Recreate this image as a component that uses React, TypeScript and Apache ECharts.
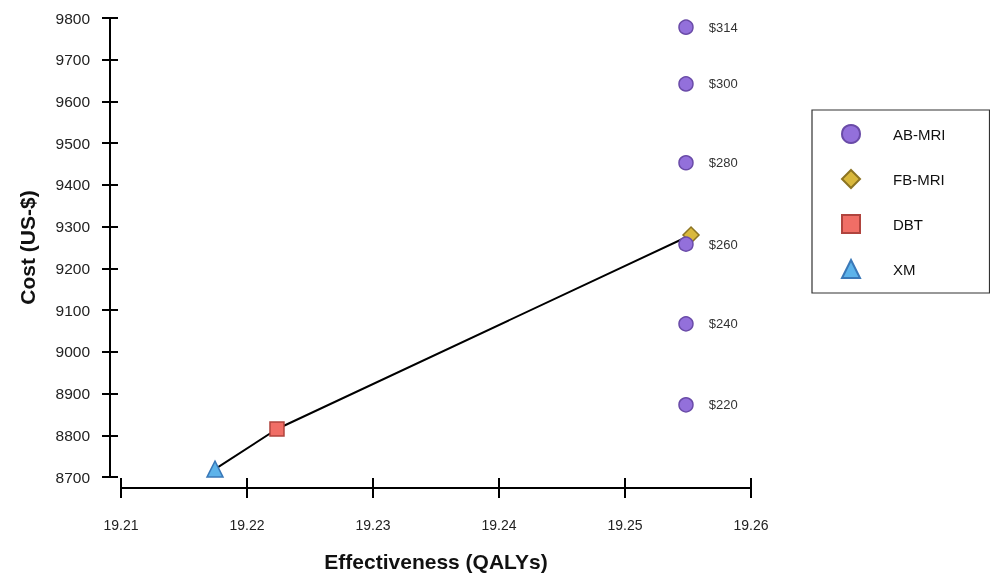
import React, { useEffect, useRef } from "react";
import * as echarts from "echarts";

const abMriX = [19.25484, 19.25484, 19.25484, 19.25484, 19.25484, 19.25484];
const abMriCost = [9778, 9642, 9453, 9258, 9067, 8873];
const abMriLabels = ["$314", "$300", "$280", "$260", "$240", "$220"];
const fbMri: [number, number] = [19.25524, 9280];
const dbt: [number, number] = [19.22238, 8815];
const xm: [number, number] = [19.21746, 8719];
const frontier = [xm, dbt, fbMri];
const xTicks = [19.21, 19.22, 19.23, 19.24, 19.25, 19.26];
const yMin = 8700;
const yMax = 9800;

const FONT = "'Liberation Sans', Arial, sans-serif";

export default function App() {
  const ref = useRef<HTMLDivElement>(null);
  useEffect(() => {
    if (!ref.current) return;
    const chart = echarts.init(ref.current, undefined, { renderer: "svg" });
    const xAxisBase = {
      type: "value",
      min: xTicks[0],
      max: xTicks[xTicks.length - 1],
      interval: 0.01,
      offset: 11,
      splitLine: { show: false },
    };
    const yAxisBase = {
      type: "value",
      min: yMin,
      max: yMax,
      interval: 100,
      offset: 11,
      splitLine: { show: false },
    };
    chart.setOption({
      animation: false,
      textStyle: { fontFamily: FONT },
      grid: { left: 121, right: 239, top: 18, bottom: 96, outerBoundsMode: "none", containLabel: false },
      legend: {
        orient: "vertical",
        left: 812,
        top: 110,
        data: ["AB-MRI", "FB-MRI", "DBT", "XM"],
        itemWidth: 18,
        itemHeight: 18,
        itemGap: 25,
        padding: [14, 44, 14, 29],
        borderColor: "#333",
        borderWidth: 1.2,
        textStyle: { fontSize: 15, color: "#111", fontFamily: FONT, padding: [0, 0, 0, 28] },
      },
      xAxis: [
        {
          ...xAxisBase,
          position: "bottom",
          name: "Effectiveness (QALYs)",
          nameLocation: "middle",
          nameGap: 63,
          nameTextStyle: { fontSize: 21, fontWeight: "bold", color: "#111", fontFamily: FONT },
          axisLine: { show: true, lineStyle: { color: "#000", width: 2 } },
          axisTick: { show: true, length: 10, lineStyle: { color: "#000", width: 2 } },
          axisLabel: {
            margin: 30,
            fontSize: 14,
            color: "#222",
            fontFamily: FONT,
            formatter: (v: number) => v.toFixed(2),
          },
        },
        {
          ...xAxisBase,
          position: "bottom",
          axisLine: { show: false },
          axisTick: { show: true, inside: true, length: 10, lineStyle: { color: "#000", width: 2 } },
          axisLabel: { show: false },
        },
      ],
      yAxis: [
        {
          ...yAxisBase,
          position: "left",
          name: "Cost (US-$)",
          nameLocation: "middle",
          nameGap: 72,
          nameTextStyle: { fontSize: 21, fontWeight: "bold", color: "#111", fontFamily: FONT },
          axisLine: { show: true, lineStyle: { color: "#000", width: 2 } },
          axisTick: { show: true, length: 8, lineStyle: { color: "#000", width: 2 } },
          axisLabel: {
            margin: 20,
            fontSize: 15.5,
            color: "#222",
            fontFamily: FONT,
            formatter: (v: number) => String(v),
          },
        },
        {
          ...yAxisBase,
          position: "left",
          axisLine: { show: false },
          axisTick: { show: true, inside: true, length: 8, lineStyle: { color: "#000", width: 2 } },
          axisLabel: { show: false },
        },
      ],
      series: [
        {
          type: "line",
          data: frontier,
          symbol: "none",
          lineStyle: { color: "#000", width: 2 },
          z: 1,
          silent: true,
        },
        {
          name: "FB-MRI",
          type: "scatter",
          data: [fbMri],
          symbol: "diamond",
          symbolSize: 16,
          itemStyle: { color: "#D9B83C", borderColor: "#8C7422", borderWidth: 1.5, opacity: 1 },
          z: 2,
        },
        {
          name: "DBT",
          type: "scatter",
          data: [dbt],
          symbol: "rect",
          symbolSize: 14,
          itemStyle: { color: "#F06E66", borderColor: "#B0443E", borderWidth: 1.5, opacity: 1 },
          z: 2,
        },
        {
          name: "XM",
          type: "scatter",
          data: [xm],
          symbol: "triangle",
          symbolSize: 16,
          itemStyle: { color: "#5DB3EA", borderColor: "#3A78B8", borderWidth: 1.5, opacity: 1 },
          z: 2,
        },
        {
          name: "AB-MRI",
          type: "scatter",
          data: abMriX.map((x, i) => ({
            value: [x, abMriCost[i]],
            label: { formatter: abMriLabels[i] },
          })),
          symbol: "circle",
          symbolSize: 14,
          itemStyle: { color: "#9370DB", borderColor: "#6A4BA8", borderWidth: 1.5, opacity: 1 },
          label: {
            show: true,
            position: "right",
            distance: 15,
            fontSize: 13,
            color: "#333",
            fontFamily: FONT,
          },
          z: 3,
        },
      ],
    });
    return () => chart.dispose();
  }, []);
  return <div ref={ref} style={{ width: 990, height: 573, position: "fixed", left: 0, top: 0 }} />;
}
